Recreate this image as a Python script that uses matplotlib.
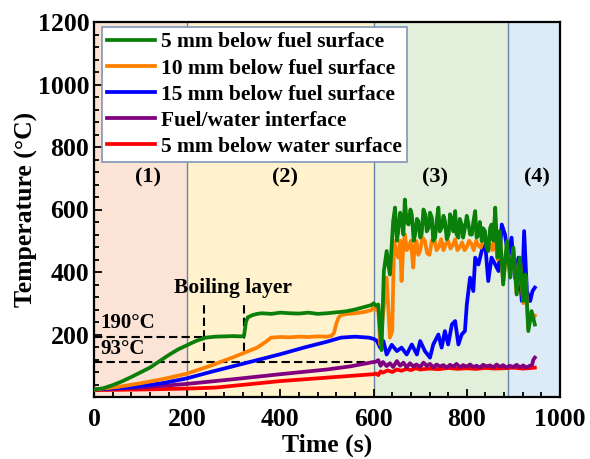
import matplotlib
matplotlib.use("Agg")
import matplotlib.pyplot as plt
from matplotlib.ticker import MultipleLocator

# ---------------- data ----------------
green_t = [0,20,40,60,80,100,120,140,160,180,200,220,240,260,280,300,315,322,326,330,340,350,360,380,400,420,440,460,480,500,520,540,560,580,595,600,605,610,617,622,628,632,635,642,646,650,653,657,660,664,667,671,675,679,682,686,689,693,696,700,703,707,711,714,718,721,725,728,732,735,739,742,746,750,753,757,761,764,768,771,775,778,782,785,789,792,796,800,803,807,811,814,818,821,825,828,832,835,839,842,846,850,853,857,861,866,871,878,886,893,900,907,914,921,926,932,939,946]
green_T = [24,28,38,50,64,79,94,114,134,152,166,180,190,193,194,195,194,196,240,255,262,266,268,266,270,268,267,270,266,268,271,274,280,288,294,300,292,296,150,403,467,420,392,563,606,500,531,590,574,520,632,560,552,600,584,500,520,570,563,510,520,600,584,530,541,590,574,500,510,560,606,530,541,580,563,505,520,585,568,530,595,520,510,570,552,510,541,580,558,520,520,560,595,510,520,560,499,540,531,480,467,540,552,500,606,446,531,360,499,382,478,328,446,307,392,211,275,232]

orange_t = [0,50,100,150,200,250,300,350,370,380,400,420,440,460,480,500,510,515,520,525,530,540,560,580,595,600,605,610,614,621,628,635,640,644,648,653,657,660,664,667,671,675,680,685,688,692,696,700,705,710,715,720,725,730,735,740,745,750,755,760,765,770,775,780,785,790,795,800,805,810,815,820,825,830,835,840,845,850,855,860,866,871,878,886,893,900,907,914,921,926,932,939,946]
orange_T = [24,32,44,58,75,100,128,158,178,190,192,191,193,192,194,193,196,205,235,255,262,265,268,272,278,285,280,282,168,275,382,190,211,499,470,446,500,371,490,520,470,478,500,414,480,499,455,470,510,500,460,455,500,510,470,480,505,470,490,500,475,485,505,470,480,495,470,480,500,490,470,500,485,478,500,505,480,490,470,510,440,520,370,480,390,470,330,440,300,385,220,265,260]

blue_t = [0,50,100,150,200,250,300,350,400,450,500,530,560,590,600,607,614,621,628,639,650,660,671,682,693,700,710,721,728,739,746,753,760,768,775,782,789,796,800,807,814,818,825,832,839,846,853,861,868,875,882,889,896,903,911,918,923,929,936,941,946]
blue_T = [24,28,35,45,60,80,99,118,137,158,177,190,193,190,186,180,158,179,136,167,147,158,136,168,136,179,147,126,168,200,158,211,168,232,243,168,200,211,296,382,339,446,424,467,499,371,446,424,403,552,520,446,510,382,446,307,531,339,307,339,350]

purple_t = [0,100,200,300,400,500,550,600,605,610,615,620,628,635,642,650,657,664,671,678,685,692,700,707,714,721,728,735,742,750,757,764,771,778,785,792,800,807,814,821,828,835,842,850,857,864,871,878,885,892,900,907,914,921,928,935,940,943,946]
purple_T = [25,30,42,57,73,88,98,112,113,118,100,112,99,108,96,115,100,110,95,108,98,104,96,110,100,106,95,104,98,102,94,103,97,106,95,102,97,104,96,100,94,103,98,101,95,104,96,102,94,100,96,103,95,101,94,100,102,120,126]

red_t = [0,100,200,260,300,400,500,600,605,610,615,620,630,640,650,660,670,680,690,700,720,740,760,780,800,820,840,860,880,900,920,940,946]
red_T = [22,24,27,30,36,51,62,73,75,70,82,78,85,80,88,84,90,86,92,88,91,89,93,90,92,90,93,91,92,94,91,93,94]

labels = ["5 mm below fuel surface", "10 mm below fuel surface",
          "15 mm below fuel surface", "Fuel/water interface",
          "5 mm below water surface"]
colors = ["#0A7F0A", "#FF8000", "#0000FF", "#800080", "#FF0000"]

region_edges = [0, 200, 600, 888, 1000]
region_colors = ["#FBE3D6", "#FFF2CC", "#E2EFDA", "#DDEBF7"]
region_labels = ["(1)", "(2)", "(3)", "(4)"]
region_label_x = [116, 410, 732, 951]

# ---------------- figure ----------------
plt.rcParams['font.family'] = ['Liberation Serif', 'DejaVu Serif']
plt.rcParams['font.weight'] = 'bold'

fig = plt.figure(figsize=(5.9, 4.59), dpi=100)
ax = fig.add_axes([94/590, 1-397/459, 466/590, 375/459])

for i in range(4):
    ax.axvspan(region_edges[i], region_edges[i+1], color=region_colors[i], zorder=0, lw=0)
for xe in region_edges[1:4]:
    ax.axvline(xe, color="#6A84A8", lw=1.0, zorder=1)

series = [(green_t, green_T), (orange_t, orange_T), (blue_t, blue_T),
          (purple_t, purple_T), (red_t, red_T)]
handles = {}
for idx in [4, 3, 2, 1, 0]:
    t, T = series[idx]
    h, = ax.plot(t, T, color=colors[idx], lw=2.7, zorder=3 + (4 - idx), label=labels[idx])
    handles[idx] = h
handles = [handles[i] for i in range(5)]

# dashed guide lines
dash = (0, (4, 2))
ax.plot([0, 322], [193, 193], ls=dash, color='black', lw=1.5, zorder=2)
ax.plot([0, 607], [112, 112], ls=dash, color='black', lw=1.5, zorder=2)
ax.plot([237, 237], [147, 295], ls=dash, color='black', lw=1.5, zorder=2)
ax.plot([322, 322], [147, 295], ls=dash, color='black', lw=1.5, zorder=2)

ax.text(13, 237, "190°C", fontsize=15, fontweight='bold', va='center', ha='left', zorder=10)
ax.text(13, 153, "93°C", fontsize=15, fontweight='bold', va='center', ha='left', zorder=10)
ax.text(298, 349, "Boiling layer", fontsize=15.5, fontweight='bold', va='center', ha='center', zorder=10)

for x, lab in zip(region_label_x, region_labels):
    ax.text(x, 701, lab, fontsize=16, fontweight='bold', ha='center', va='center', zorder=10)

ax.set_xlim(0, 1000)
ax.set_ylim(0, 1200)
ax.set_xticks([0, 200, 400, 600, 800, 1000])
ax.set_yticks([200, 400, 600, 800, 1000, 1200])
ax.xaxis.set_minor_locator(MultipleLocator(40))
ax.yaxis.set_minor_locator(MultipleLocator(40))
ax.tick_params(which='both', direction='in', width=1.3, labelsize=18.5)
ax.tick_params(which='major', length=6)
ax.tick_params(which='minor', length=3.5)
ax.tick_params(axis='x', pad=8)
for lab in ax.get_xticklabels() + ax.get_yticklabels():
    lab.set_fontweight('bold')
for sp in ax.spines.values():
    sp.set_linewidth(1.6)

ax.set_xlabel("Time (s)", fontsize=18.5, fontweight='bold', labelpad=2)
ax.set_ylabel("Temperature (°C)", fontsize=18.5, fontweight='bold', labelpad=0)

leg = ax.legend(handles=handles, loc='upper left', bbox_to_anchor=(8/466, 1-5/375),
                borderaxespad=0, frameon=True, fancybox=False,
                framealpha=1, edgecolor="#8096B8", handlelength=2.2,
                handletextpad=0.3, labelspacing=0.28, borderpad=0.25,
                prop={'weight': 'bold', 'size': 15.5})
leg.get_frame().set_linewidth(1.2)
leg.set_zorder(20)

fig.savefig("out.png", dpi=100)
